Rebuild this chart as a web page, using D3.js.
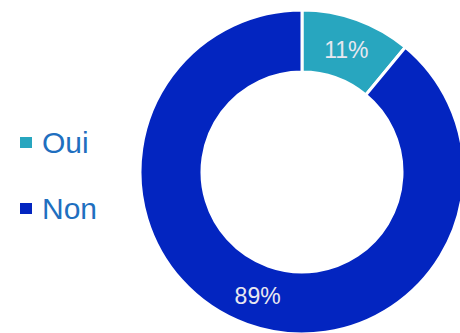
<!DOCTYPE html>
<html>
<head>
<meta charset="utf-8">
<script src="https://cdn.jsdelivr.net/npm/d3@7"></script>
<style>
  body { margin: 0; background: #fff; }
  svg { display: block; font-family: "Liberation Sans", Arial, sans-serif; }
</style>
</head>
<body>
<svg width="460" height="333"></svg>
<script>
'use strict';
const categories = ['Oui', 'Non'];
const values = [11, 89];
const colors = ['#28a6bf', '#0325c0'];

(() => {
  const svg = d3.select('svg');
  const cx = 302, cy = 172;
  const outer = 162, inner = 100;

  const data = categories.map((c, i) => ({ name: c, value: values[i], color: colors[i] }));
  const pie = d3.pie().sort(null).value(d => d.value);
  const arc = d3.arc().innerRadius(inner).outerRadius(outer);
  const labelArc = d3.arc().innerRadius((inner + outer) / 2).outerRadius((inner + outer) / 2);

  const g = svg.append('g').attr('transform', `translate(${cx},${cy})`);
  const slices = g.selectAll('g.slice').data(pie(data)).enter().append('g').attr('class', 'slice');

  slices.append('path')
    .attr('d', arc)
    .attr('fill', d => d.data.color)
    .attr('stroke', '#fff')
    .attr('stroke-width', 3);

  slices.append('text')
    .attr('transform', d => `translate(${labelArc.centroid(d)})`)
    .attr('text-anchor', 'middle')
    .attr('dy', '0.4em')
    .attr('fill', '#e8e8f0')
    .attr('font-size', 23)
    .text(d => `${d.data.value}%`);

  // legend
  const legend = svg.append('g').selectAll('g').data(data).enter().append('g')
    .attr('transform', (d, i) => `translate(20, ${153 + i * 66})`);
  legend.append('rect')
    .attr('y', -16)
    .attr('width', 12)
    .attr('height', 11)
    .attr('fill', d => d.color);
  legend.append('text')
    .attr('x', 22)
    .attr('fill', '#1f6fbf')
    .attr('font-size', 30)
    .text(d => d.name);
})();
</script>
</body>
</html>
